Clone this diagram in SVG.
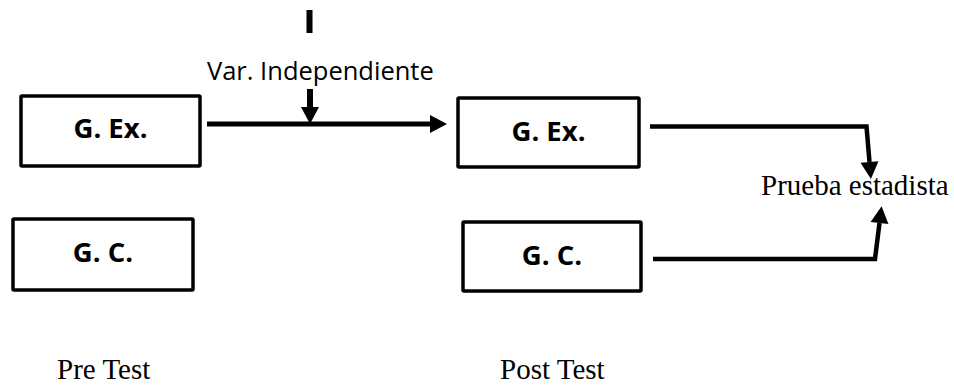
<svg xmlns="http://www.w3.org/2000/svg" width="954" height="385" viewBox="0 0 954 385">
  <style>
    .box { fill: #ffffff; stroke: #000000; stroke-width: 3.5; }
    .lbl { font-family: "Open Sans", "Liberation Sans", sans-serif; font-weight: bold; font-size: 27.5px; fill: #000000; text-anchor: middle; }
    .cal { font-family: "Open Sans", "Liberation Sans", sans-serif; font-size: 25.5px; fill: #000000; }
    .ser { font-family: "Liberation Serif", "Times New Roman", serif; font-size: 29px; fill: #000000; }
    .wire { fill: none; stroke: #000000; stroke-width: 5; stroke-linejoin: miter; marker-end: url(#head); }
  </style>
  <defs>
    <marker id="head" markerUnits="userSpaceOnUse" markerWidth="18" markerHeight="18" refX="0" refY="9" orient="auto" overflow="visible">
      <path d="M0,0 L17,9 L0,18 Z" fill="#000000"/>
    </marker>
  </defs>

  <rect width="954" height="385" fill="#ffffff"/>

  <!-- Pre-test groups -->
  <g id="pre-experimental">
    <rect class="box" x="21" y="96" width="179" height="70" rx="1"/>
    <text class="lbl" x="110.5" y="138">G. Ex.</text>
  </g>
  <g id="pre-control">
    <rect class="box" x="13" y="219" width="180" height="71" rx="1"/>
    <text class="lbl" x="103" y="262">G. C.</text>
  </g>

  <!-- Post-test groups -->
  <g id="post-experimental">
    <rect class="box" x="458" y="98" width="181" height="69" rx="1"/>
    <text class="lbl" x="548.5" y="141">G. Ex.</text>
  </g>
  <g id="post-control">
    <rect class="box" x="463" y="222" width="178" height="69" rx="1"/>
    <text class="lbl" x="552" y="265">G. C.</text>
  </g>

  <!-- Independent variable input -->
  <g id="independent-variable">
    <rect x="306.5" y="10" width="6" height="23" fill="#000000"/>
    <text class="cal" x="207" y="80">Var. Independiente</text>
  </g>

  <!-- Statistical test -->
  <g id="statistical-test">
    <text class="ser" x="761" y="195">Prueba estadista</text>
  </g>

  <!-- Phase captions -->
  <g id="captions">
    <text class="ser" x="57" y="379">Pre Test</text>
    <text class="ser" x="500" y="379">Post Test</text>
  </g>

  <!-- Connectors -->
  <g id="connectors">
    <path class="wire" d="M207,124 L430,124"/>
    <path class="wire" style="stroke-width:6" d="M310,89 L310,107"/>
    <path class="wire" style="stroke-width:4.5" d="M650,126.5 L866.5,126.5 L869.5,162"/>
    <path class="wire" style="stroke-width:4.5" d="M653,259 L875,259 L879.5,223"/>
  </g>
</svg>
